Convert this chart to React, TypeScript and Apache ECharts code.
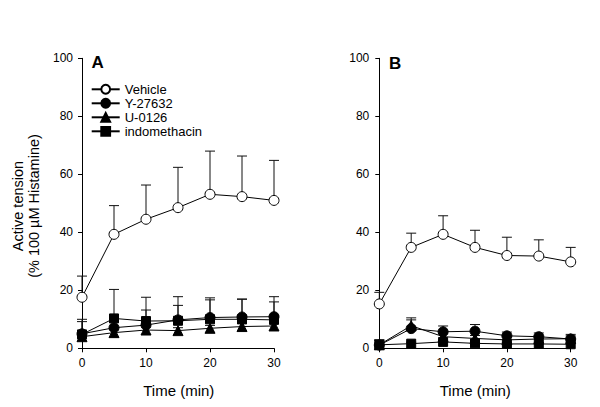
import React, { useEffect, useRef } from "react";
import * as echarts from "echarts";

const times = [0, 5, 10, 15, 20, 25, 30];
const seriesNames = ["Vehicle", "Y-27632", "U-0126", "indomethacin"];
const yTicks = [0, 20, 40, 60, 80, 100];
const xTicks = [0, 10, 20, 30];

// Panel A (mean, SEM)
const vehicleA = [17.6, 39.3, 44.5, 48.5, 53.1, 52.3, 51.0];
const vehicleAErr = [7.3, 9.9, 11.8, 13.9, 14.9, 14.0, 13.8];
const y27632A = [5.0, 7.1, 8.0, 9.8, 10.6, 10.8, 10.9];
const y27632AErr = [4.2, 3.0, 5.2, 8.0, 6.8, 6.1, 6.9];
const u0126A = [4.0, 5.4, 6.3, 6.1, 6.9, 7.5, 7.7];
const u0126AErr = [1.0, 1.0, 1.0, 1.0, 1.0, 1.0, 1.0];
const indoA = [4.8, 10.3, 9.4, 9.5, 10.0, 10.0, 9.8];
const indoAErr = [5.2, 10.0, 8.2, 5.3, 6.7, 7.0, 6.2];

// Panel B (mean, SEM)
const vehicleB = [15.3, 34.8, 39.3, 34.8, 32.0, 31.8, 29.8];
const vehicleBErr = [4.0, 4.9, 6.4, 5.9, 6.3, 5.6, 5.0];
const y27632B = [1.1, 6.8, 5.7, 5.9, 4.3, 4.0, 3.2];
const y27632BErr = [1.8, 3.0, 2.0, 2.3, 1.3, 1.3, 1.6];
const u0126B = [1.2, 7.8, 4.0, 3.4, 2.9, 3.2, 3.3];
const u0126BErr = [1.7, 2.7, 1.0, 1.0, 1.0, 1.0, 1.0];
const indoB = [1.2, 1.6, 2.2, 1.7, 1.5, 1.5, 1.4];
const indoBErr = [1.5, 0.5, 0.5, 0.5, 0.5, 0.5, 0.5];

const FONT = "Liberation Sans";

const symbols: Record<string, { symbol: string; size: number; fill: string }> = {
  Vehicle: { symbol: "circle", size: 10, fill: "#ffffff" },
  "Y-27632": { symbol: "circle", size: 10, fill: "#000000" },
  "U-0126": { symbol: "triangle", size: 10, fill: "#000000" },
  indomethacin: { symbol: "rect", size: 9, fill: "#000000" },
};

function lineSeries(name: string, vals: number[], idx: number) {
  const s = symbols[name];
  return {
    type: "line",
    name,
    xAxisIndex: idx,
    yAxisIndex: idx,
    data: times.map((t, i) => [t, vals[i]]),
    symbol: s.symbol,
    symbolSize: s.size,
    showAllSymbol: true,
    lineStyle: { color: "#000", width: 1 },
    itemStyle: { color: s.fill, borderColor: "#000", borderWidth: 1 },
    z: 5,
    emphasis: { disabled: true },
  };
}

function errSeries(name: string, vals: number[], errs: number[], idx: number) {
  return {
    type: "custom",
    name: name + " err",
    xAxisIndex: idx,
    yAxisIndex: idx,
    data: times.map((t, i) => [t, vals[i], errs[i]]),
    encode: { x: 0, y: 1 },
    z: 2,
    silent: true,
    renderItem: (params: any, api: any) => {
      const x = api.value(0);
      const m = api.value(1);
      const e = api.value(2);
      const p0 = api.coord([x, m]);
      const p1 = api.coord([x, m + e]);
      const st = { stroke: "#111", lineWidth: 1 };
      return {
        type: "group",
        children: [
          { type: "line", shape: { x1: p0[0], y1: p0[1], x2: p1[0], y2: p1[1] }, style: st },
          { type: "line", shape: { x1: p1[0] - 5, y1: p1[1], x2: p1[0] + 5, y2: p1[1] }, style: st },
        ],
      };
    },
  };
}

function xAxis(idx: number) {
  return {
    type: "value",
    gridIndex: idx,
    min: xTicks[0],
    max: xTicks[xTicks.length - 1],
    interval: 10,
    axisLine: { show: true, lineStyle: { color: "#000", width: 1 } },
    axisTick: { show: true, length: 4, lineStyle: { color: "#000" } },
    axisLabel: { color: "#000", fontSize: 12, fontFamily: FONT, margin: 9 },
    splitLine: { show: false },
  };
}

function yAxis(idx: number, margin: number) {
  return {
    type: "value",
    gridIndex: idx,
    min: yTicks[0],
    max: yTicks[yTicks.length - 1],
    interval: 20,
    axisLine: { show: true, lineStyle: { color: "#000", width: 1 } },
    axisTick: { show: true, length: 4, lineStyle: { color: "#000" } },
    axisLabel: { color: "#000", fontSize: 12, fontFamily: FONT, margin },
    splitLine: { show: false },
  };
}

export default function App() {
  const ref = useRef<HTMLDivElement>(null);
  useEffect(() => {
    if (!ref.current) return;
    const chart = echarts.init(ref.current, undefined, { renderer: "svg" });
    const option: any = {
      animation: false,
      backgroundColor: "#ffffff",
      grid: [
        { left: 82, right: 326, top: 58.3, bottom: 58.7 },
        { left: 379.3, right: 29.3, top: 58.3, bottom: 58.7 },
      ],
      xAxis: [xAxis(0), xAxis(1)],
      yAxis: [yAxis(0, 9), yAxis(1, 10)],
      legend: {
        data: seriesNames,
        orient: "vertical",
        left: 90.7,
        top: 82.3,
        padding: 0,
        itemWidth: 28,
        itemHeight: 11,
        itemGap: 0,
        textStyle: { color: "#000", fontSize: 13, lineHeight: 14, fontFamily: FONT },
        selectedMode: false,
      },
      graphic: [
        {
          type: "text",
          x: 91.5,
          y: 62,
          style: { text: "A", fontSize: 17, fontWeight: "bold", fontFamily: FONT, fill: "#000", verticalAlign: "middle", align: "left" },
        },
        {
          type: "text",
          x: 389,
          y: 63,
          style: { text: "B", fontSize: 17, fontWeight: "bold", fontFamily: FONT, fill: "#000", verticalAlign: "middle", align: "left" },
        },
        {
          type: "text",
          x: 26,
          y: 206,
          rotation: Math.PI / 2,
          style: {
            text: "Active tension\n(% 100 µM Histamine)",
            fontSize: 14.5,
            fontWeight: "normal",
            lineHeight: 16,
            fontFamily: FONT,
            fill: "#000",
            align: "center",
            verticalAlign: "middle",
          },
        },
        {
          type: "text",
          x: 178.8,
          y: 390,
          style: { text: "Time (min)", fontSize: 15, fontWeight: "normal", fontFamily: FONT, fill: "#000", align: "center", verticalAlign: "middle" },
        },
        {
          type: "text",
          x: 475.3,
          y: 390,
          style: { text: "Time (min)", fontSize: 15, fontWeight: "normal", fontFamily: FONT, fill: "#000", align: "center", verticalAlign: "middle" },
        },
      ],
      series: [
        errSeries("Vehicle", vehicleA, vehicleAErr, 0),
        errSeries("Y-27632", y27632A, y27632AErr, 0),
        errSeries("U-0126", u0126A, u0126AErr, 0),
        errSeries("indomethacin", indoA, indoAErr, 0),
        lineSeries("Vehicle", vehicleA, 0),
        lineSeries("Y-27632", y27632A, 0),
        lineSeries("U-0126", u0126A, 0),
        lineSeries("indomethacin", indoA, 0),
        errSeries("Vehicle", vehicleB, vehicleBErr, 1),
        errSeries("Y-27632", y27632B, y27632BErr, 1),
        errSeries("U-0126", u0126B, u0126BErr, 1),
        errSeries("indomethacin", indoB, indoBErr, 1),
        lineSeries("Vehicle", vehicleB, 1),
        lineSeries("Y-27632", y27632B, 1),
        lineSeries("U-0126", u0126B, 1),
        lineSeries("indomethacin", indoB, 1),
      ],
    };
    chart.setOption(option);
    return () => chart.dispose();
  }, []);
  return <div ref={ref} style={{ width: 600, height: 407, position: "fixed", left: 0, top: 0, background: "#fff" }} />;
}
